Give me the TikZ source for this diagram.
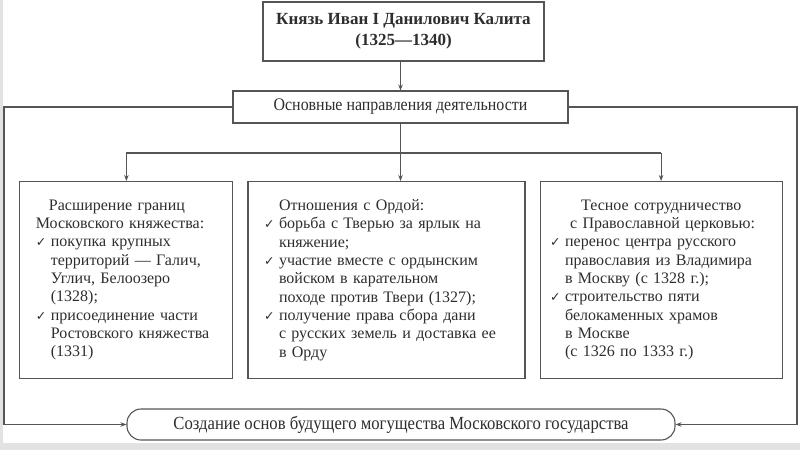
\documentclass[tikz,border=0pt]{standalone}
\usepackage{fontspec}
\setmainfont{Liberation Serif}
\newfontfamily\symfont{DejaVu Sans}
\newfontfamily\narrowfont[FakeStretch=0.9]{Liberation Serif}
\usetikzlibrary{positioning}
\usetikzlibrary{arrows.meta}
\definecolor{inkgray}{HTML}{2E2E2E}
\definecolor{linegray}{HTML}{555555}
\definecolor{paper}{HTML}{E2E2E2}
\newcommand{\chk}{\makebox[15pt][l]{\symfont\fontsize{12.5}{12}\selectfont ✓}}
\newcommand{\hang}{\hspace*{15pt}}

\begin{document}
\begin{tikzpicture}
		[x=1pt, y=-1pt,
		box/.style={draw=linegray, line width=1.1pt, text=inkgray, font=\fontsize{16}{18.3}\selectfont},
		textbox/.style={box, minimum height=197pt, align=left, inner ysep=0pt},
		wire/.style={draw=linegray, line width=1.1pt},
		link/.style={wire, -{Stealth[length=6pt, width=4.5pt]}}]
		\useasboundingbox (0,0) rectangle (800,450);
		\fill[paper] (0,0) rectangle (800,450);
		\fill[white] (3,0) rectangle (800,443);

		\node[box, font=\fontsize{17}{21}\selectfont\bfseries, align=center, minimum width=281pt, minimum height=59pt] (ruler) at (403.5,31.5) {Князь Иван I Данилович Калита\\(1325—1340)};
		\node[box, font=\fontsize{17.7}{18}\selectfont\narrowfont, minimum width=335pt, minimum height=32pt] (aims) at (400.5,107) {Основные направления деятельности};

		\node[textbox, text width=245pt, inner xsep=16pt, anchor=north] (b2) at (386.5,181) {%
			\hang Отношения с Ордой:\\
			\chk борьба с Тверью за ярлык на\\
			\hang княжение;\\
			\chk участие вместе с ордынским\\
			\hang войском в карательном\\
			\hang походе против Твери (1327);\\
			\chk получение права сбора дани\\
			\hang с русских земель и доставка ее\\
			\hang в Орду};
		\node[textbox, text width=181pt, inner xsep=16pt, left=14pt of b2] (b1) {%
			\hspace*{13pt}Расширение границ\\
			Московского княжества:\\
			\chk покупка крупных\\
			\hang территорий — Галич,\\
			\hang Углич, Белоозеро\\
			\hang (1328);\\
			\chk присоединение части\\
			\hang Ростовского княжества\\
			\hang (1331)};
		\node[textbox, text width=222pt, inner xsep=10pt, right=14pt of b2] (b3) {%
			\hspace*{31pt}Тесное сотрудничество\\
			\hspace*{20pt}с Православной церковью:\\
			\chk перенос центра русского\\
			\hang православия из Владимира\\
			\hang в Москву (с 1328 г.);\\
			\chk строительство пяти\\
			\hang белокаменных храмов\\
			\hang в Москве\\
			\hang (с 1326 по 1333 г.)};

		\node[box, font=\fontsize{18.5}{18}\selectfont\narrowfont, rounded corners=14pt, minimum width=548pt, minimum height=31pt] (goal) at (401,424.5) {Создание основ будущего могущества Московского государства};

		\coordinate (fork) at (401,153);
		\coordinate (leftrail) at (4,0);
		\coordinate (rightrail) at (797,0);

		\draw[link] (ruler.south -| aims) -- (aims);
		\draw[link] (aims) -- (aims |- b2.north);
		\draw[wire] (fork -| b1.north) -- (fork -| b3.north);
		\draw[link] (fork -| b1.north) -- (b1.north);
		\draw[link] (fork -| b3.north) -- (b3.north);
		\draw[link] (aims.west) -- (aims.west -| leftrail) |- (goal.west);
		\draw[link] (aims.east) -- (aims.east -| rightrail) |- (goal.east);
	\end{tikzpicture}
\end{document}
